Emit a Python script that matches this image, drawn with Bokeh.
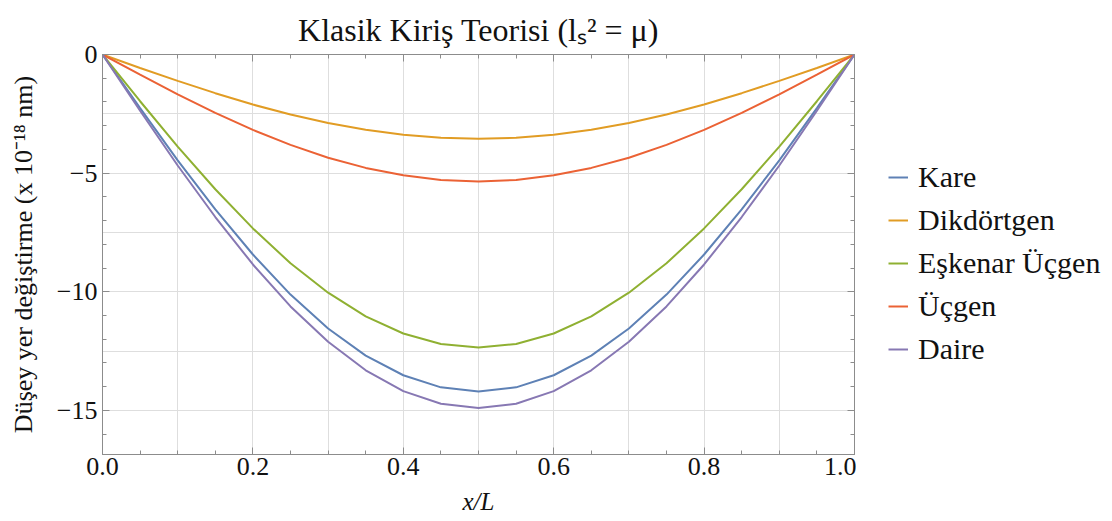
from bokeh.plotting import figure
from bokeh.layouts import row
from bokeh.models import FixedTicker, LinearAxis, Legend, LegendItem, Range1d
from bokeh.embed import file_html
from bokeh.resources import INLINE

# ---- data ----
x_vals = [0.0, 0.05, 0.1, 0.15, 0.2, 0.25, 0.3, 0.35, 0.4, 0.45, 0.5,
          0.55, 0.6, 0.65, 0.7, 0.75, 0.8, 0.85, 0.9, 0.95, 1.0]

kare = [0, -2.26, -4.46, -6.53, -8.43, -10.12, -11.55, -12.69, -13.52, -14.03, -14.20,
        -14.03, -13.52, -12.69, -11.55, -10.12, -8.43, -6.53, -4.46, -2.26, 0]
dikdortgen = [0, -0.57, -1.11, -1.63, -2.11, -2.53, -2.89, -3.17, -3.38, -3.51, -3.55,
              -3.51, -3.38, -3.17, -2.89, -2.53, -2.11, -1.63, -1.11, -0.57, 0]
eskenar_ucgen = [0, -1.97, -3.88, -5.68, -7.33, -8.80, -10.04, -11.04, -11.76, -12.20, -12.35,
                 -12.20, -11.76, -11.04, -10.04, -8.80, -7.33, -5.68, -3.88, -1.97, 0]
ucgen = [0, -0.85, -1.68, -2.46, -3.18, -3.81, -4.35, -4.78, -5.09, -5.29, -5.35,
         -5.29, -5.09, -4.78, -4.35, -3.81, -3.18, -2.46, -1.68, -0.85, 0]
daire = [0, -2.37, -4.68, -6.85, -8.85, -10.62, -12.11, -13.31, -14.19, -14.72, -14.90,
         -14.72, -14.19, -13.31, -12.11, -10.62, -8.85, -6.85, -4.68, -2.37, 0]

series_names = ["Kare", "Dikdörtgen", "Eşkenar Üçgen", "Üçgen", "Daire"]
series_values = [kare, dikdortgen, eskenar_ucgen, ucgen, daire]
series_colors = ["#5E81B5", "#E19C24", "#8FB032", "#EB6235", "#8778B3"]

x_major = [0.0, 0.2, 0.4, 0.6, 0.8, 1.0]
x_labels = ["0.0", "0.2", "0.4", "0.6", "0.8", "1.0"]
x_minor = [0.05, 0.1, 0.15, 0.25, 0.3, 0.35, 0.45, 0.5, 0.55, 0.65, 0.7, 0.75, 0.85, 0.9, 0.95]
y_major = [0, -5, -10, -15]
y_labels = ["0", "−5", "−10", "−15"]
y_minor = [-1, -2, -3, -4, -6, -7, -8, -9, -11, -12, -13, -14, -16]
x_grid = [0.1, 0.2, 0.3, 0.4, 0.5, 0.6, 0.7, 0.8, 0.9]
y_grid = [-2.5, -5, -7.5, -10, -12.5, -15]

FONT = "Liberation Serif"
FRAME = "#8c8c8c"
INK = "#111111"

p = figure(frame_width=752, frame_height=400, output_backend="svg", toolbar_location=None,
           x_range=Range1d(0, 1), y_range=Range1d(-16.86, 0),
           min_border_left=102, min_border_right=2, min_border_top=54, min_border_bottom=60,
           x_axis_location=None, y_axis_location=None)

p.title.text = "Klasik Kiriş Teorisi (lₛ² = μ)"
p.title.text_font = FONT
p.title.text_font_size = "32px"
p.title.text_font_style = "normal"
p.title.align = "center"
p.title.text_color = INK
p.title.standoff = 14

p.outline_line_color = FRAME
p.outline_line_width = 1


def tick_style(ax):
    ax.axis_line_color = FRAME
    ax.major_tick_line_color = FRAME
    ax.minor_tick_line_color = FRAME
    ax.major_tick_in = 7
    ax.major_tick_out = 0
    ax.minor_tick_in = 4
    ax.minor_tick_out = 0
    ax.major_label_text_font = FONT
    ax.axis_label_text_font = FONT
    ax.axis_label_text_font_style = "normal"
    ax.major_label_text_color = INK
    ax.axis_label_text_color = INK


bottom = LinearAxis(ticker=FixedTicker(ticks=x_major, minor_ticks=x_minor), axis_label="x/L")
tick_style(bottom)
bottom.major_label_overrides = {v: s for v, s in zip(x_major, x_labels)}
bottom.major_label_text_font_size = "26px"
bottom.axis_label_text_font_size = "25px"
bottom.axis_label_text_font_style = "italic"
bottom.major_label_standoff = 3
bottom.axis_label_standoff = 10
p.add_layout(bottom, "below")

left = LinearAxis(ticker=FixedTicker(ticks=y_major, minor_ticks=y_minor),
                  axis_label="Düşey yer değiştirme (x 10⁻¹⁸ nm)")
tick_style(left)
left.major_label_overrides = {v: s for v, s in zip(y_major, y_labels)}
left.major_label_text_font_size = "26px"
left.axis_label_text_font_size = "26px"
left.major_label_standoff = 5
left.axis_label_standoff = 16
p.add_layout(left, "left")


def mirror_axis(minor_positions, length):
    ax = LinearAxis(ticker=FixedTicker(ticks=[], minor_ticks=minor_positions))
    ax.axis_line_color = FRAME
    ax.major_tick_line_color = None
    ax.minor_tick_line_color = FRAME
    ax.minor_tick_in = length
    ax.minor_tick_out = 0
    ax.major_tick_in = 0
    ax.major_tick_out = 0
    ax.major_label_standoff = 0
    ax.axis_label_standoff = 0
    return ax


p.add_layout(mirror_axis(x_minor, 4), "above")
p.add_layout(mirror_axis(x_major, 7), "above")
p.add_layout(mirror_axis(y_minor, 4), "right")
p.add_layout(mirror_axis(y_major, 7), "right")

p.xgrid.ticker = FixedTicker(ticks=x_grid)
p.ygrid.ticker = FixedTicker(ticks=y_grid)
p.xgrid.grid_line_color = "#dedede"
p.ygrid.grid_line_color = "#dedede"
p.xgrid.grid_line_width = 1
p.ygrid.grid_line_width = 1

for vals, col in zip(series_values, series_colors):
    p.line(x_vals, vals, line_color=col, line_width=2)

# ---- legend panel (separate figure to the right of the plot) ----
# the same series are plotted here outside the visible range, only to feed the legend
q = figure(width=252, height=521, output_backend="svg", toolbar_location=None,
           x_range=Range1d(0, 1), y_range=Range1d(100, 101),
           min_border=0, x_axis_location=None, y_axis_location=None)
q.outline_line_color = None
q.grid.visible = False

items = []
for name, vals, col in zip(series_names, series_values, series_colors):
    r = q.line(x_vals, vals, line_color=col, line_width=2)
    items.append(LegendItem(label=name, renderers=[r]))

legend = Legend(items=items, location=(32, 92))
legend.label_text_font = FONT
legend.label_text_font_size = "30px"
legend.label_text_color = INK
legend.glyph_width = 20
legend.glyph_height = 20
legend.label_height = 30
legend.label_standoff = 10
legend.spacing = 9
legend.padding = 0
legend.margin = 0
legend.border_line_alpha = 0
legend.background_fill_alpha = 0
q.add_layout(legend, "center")

layout = row(p, q)
open("out.html", "w").write(file_html(layout, INLINE))
